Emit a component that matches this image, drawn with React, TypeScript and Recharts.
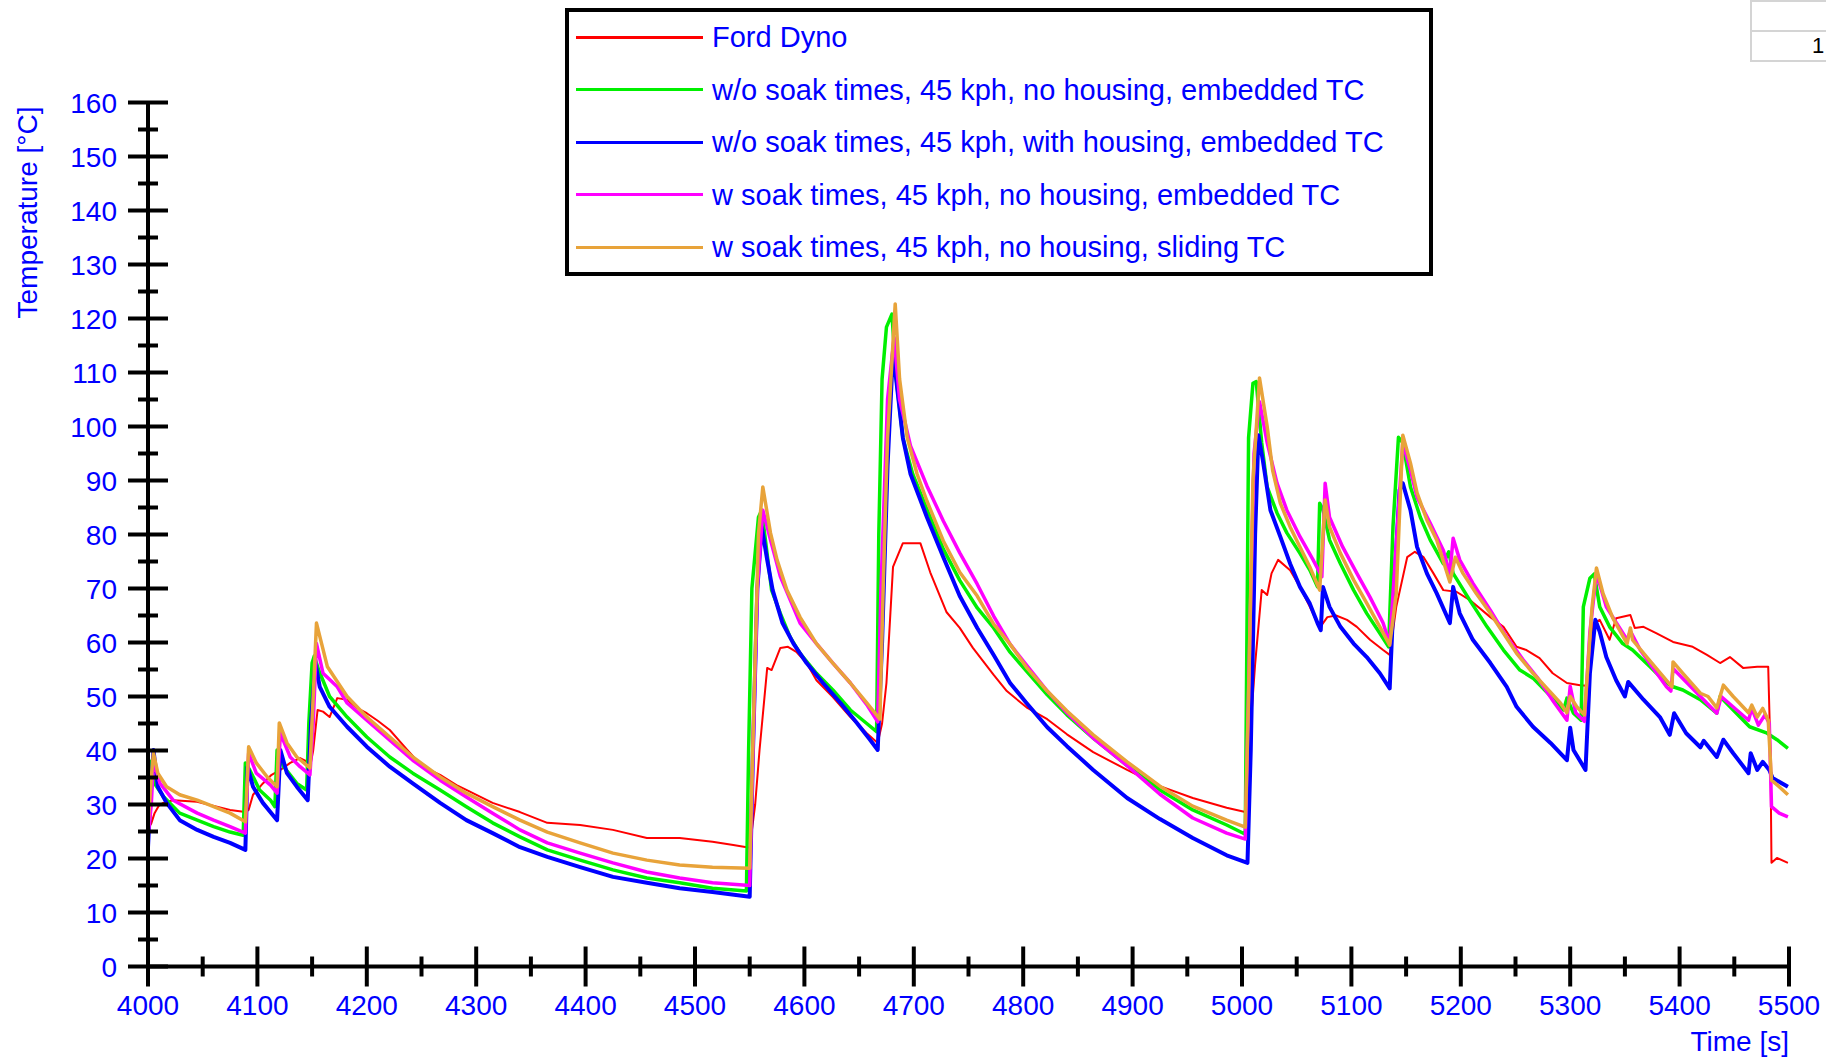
import { LineChart, Line, XAxis, YAxis } from "recharts";

// time [s], temperature [°C]
const fordDyno: [number, number][] = [
  [4000, 25.5], [4003, 26.5], [4006, 28.4], [4010, 29.8], [4014, 30.3], [4023, 30.8], [4045, 30.5], [4063, 29.6],
  [4075, 29], [4089, 28.6], [4092, 29], [4096, 31.8], [4105, 33.9], [4113, 35.5], [4121, 36.4], [4130, 37.7],
  [4139, 38.6], [4145, 38], [4148, 36.8], [4151, 40], [4155, 47.5], [4160, 47.2], [4166, 46.2], [4173, 49.7],
  [4182, 49.4], [4190, 48], [4200, 46.9], [4210, 45.5], [4221, 43.8], [4237, 40.1], [4251, 37], [4267, 35.5],
  [4282, 33.6], [4291, 32.7], [4315, 30.3], [4340, 28.6], [4365, 26.6], [4395, 26.2], [4425, 25.3], [4456, 23.8],
  [4486, 23.8], [4516, 23.1], [4535, 22.5], [4550, 22], [4555, 30], [4559, 40.1], [4566, 55.3], [4570, 54.9],
  [4578, 59], [4585, 59.2], [4593, 58.2], [4602, 56.2], [4611, 53], [4626, 49.9], [4642, 46.2], [4657, 43.2],
  [4667, 41.4], [4671, 45], [4675, 52.5], [4681, 74], [4690, 78.4], [4706, 78.4], [4715, 73], [4730, 65.6],
  [4742, 62.7], [4754, 59], [4773, 54], [4785, 51], [4803, 48], [4822, 45.8], [4840, 43], [4864, 39.7],
  [4895, 36.4], [4925, 33.4], [4955, 31.2], [4986, 29.4], [5003, 28.6], [5007, 42], [5012, 56], [5018, 69.7],
  [5023, 68.8], [5027, 72.8], [5033, 75.3], [5044, 73.4], [5053, 70.3], [5062, 66.6], [5071, 62.7], [5078, 64.7],
  [5086, 65], [5096, 64.2], [5105, 62.9], [5117, 60.5], [5129, 58.6], [5135, 57.7], [5141, 66.6], [5151, 75.8],
  [5158, 76.8], [5166, 75.8], [5175, 72.8], [5184, 69.7], [5196, 69.4], [5208, 67.9], [5227, 64.7], [5239, 62.9],
  [5251, 59.2], [5260, 58.6], [5272, 57.1], [5284, 54.3], [5297, 52.5], [5309, 52.1], [5315, 52], [5321, 63.6],
  [5327, 64.2], [5336, 60.5], [5342, 64.5], [5355, 65.1], [5359, 62.7], [5367, 62.9], [5379, 61.7], [5394, 60.1],
  [5412, 59.2], [5425, 57.7], [5437, 56.2], [5446, 57.3], [5458, 55.3], [5471, 55.5], [5481, 55.5], [5483, 40],
  [5484, 19.2], [5489, 20.1], [5499, 19.2],
];

const noSoakNoHousing: [number, number][] = [
  [4000, 28], [4002, 38], [4006, 33.9], [4014, 31.5], [4029, 28.4], [4045, 27.1], [4060, 25.9], [4075, 24.9],
  [4087, 24.3], [4089, 37.7], [4093, 36.4], [4102, 32.7], [4112, 30.8], [4116, 29.6], [4118, 40.1], [4124, 37],
  [4136, 33.9], [4145, 32.7], [4147, 45], [4150, 56.2], [4152, 57.5], [4156, 54.9], [4166, 50], [4182, 46.2],
  [4200, 42.5], [4221, 38.8], [4242, 35.8], [4267, 32.7], [4291, 29.6], [4315, 26.6], [4340, 24], [4365, 21.6],
  [4395, 19.7], [4425, 17.9], [4456, 16.4], [4486, 15.5], [4516, 14.5], [4547, 14], [4549, 40], [4552, 70],
  [4558, 83.2], [4561, 84.5], [4564, 79.6], [4570, 69.7], [4578, 65.4], [4587, 61], [4596, 58], [4611, 54.3],
  [4626, 51.2], [4642, 47.5], [4657, 45], [4666, 43.5], [4668, 80], [4671, 108.8], [4675, 118.4], [4680, 120.8],
  [4684, 108.8], [4690, 97.9], [4699, 91.2], [4712, 84.7], [4727, 77.3], [4742, 71.5], [4758, 66.4], [4773, 62.7],
  [4788, 58.2], [4803, 54.7], [4822, 50.3], [4840, 46.6], [4864, 42.3], [4895, 37.2], [4925, 32.7], [4955, 29],
  [4986, 26.2], [5003, 24.5], [5006, 97.9], [5010, 108], [5013, 108.3], [5018, 97], [5023, 88.8], [5032, 84],
  [5041, 80.3], [5053, 76.5], [5062, 73.4], [5069, 70.3], [5071, 85.8], [5074, 84.6], [5080, 79], [5090, 74.6],
  [5102, 69.7], [5114, 65.4], [5126, 61.7], [5134, 59.2], [5138, 81.4], [5143, 98], [5147, 97], [5154, 88.8],
  [5163, 83.2], [5172, 79], [5184, 74.6], [5189, 76.8], [5193, 72.8], [5208, 67.9], [5224, 62.9], [5239, 58.6],
  [5254, 54.9], [5266, 53.4], [5280, 50.5], [5294, 47.5], [5297, 49.7], [5303, 46.9], [5310, 45.6], [5312, 66.6],
  [5318, 71.9], [5322, 72.7], [5327, 66.6], [5336, 62.9], [5348, 59.8], [5357, 58.6], [5373, 55.5], [5388, 52.5],
  [5394, 51.8], [5403, 51.2], [5419, 49.4], [5434, 46.9], [5437, 50], [5449, 47.5], [5464, 44.4], [5480, 43.2],
  [5489, 42], [5499, 40.4],
];

const noSoakWithHousing: [number, number][] = [
  [4000, 22.1], [4002, 30], [4005, 40.1], [4009, 33.3], [4017, 30.3], [4029, 27.1], [4045, 25.3], [4060, 24],
  [4075, 22.9], [4089, 21.6], [4091, 37], [4096, 33.3], [4105, 30.3], [4118, 27.1], [4121, 40.1], [4127, 35.8],
  [4136, 33.3], [4146, 30.8], [4149, 45], [4153, 56.2], [4157, 51.8], [4166, 48.1], [4182, 44.4], [4200, 40.7],
  [4221, 37], [4242, 33.9], [4267, 30.3], [4291, 27.1], [4315, 24.7], [4340, 22.1], [4365, 20.3], [4395, 18.4],
  [4425, 16.6], [4456, 15.5], [4486, 14.5], [4516, 13.8], [4550, 12.9], [4553, 40], [4557, 70], [4561, 81.4],
  [4566, 75.3], [4571, 69.7], [4580, 63.6], [4590, 59.8], [4602, 56.2], [4617, 52.5], [4633, 48.8], [4648, 45.1],
  [4660, 42], [4667, 40.1], [4671, 60], [4676, 92.7], [4681, 113.9], [4686, 105], [4690, 97.9], [4697, 91.2],
  [4712, 83.2], [4727, 75.8], [4742, 68.6], [4758, 62.7], [4773, 57.7], [4788, 52.5], [4803, 48.8], [4822, 44.3],
  [4840, 40.8], [4864, 36.4], [4895, 31.2], [4925, 27.3], [4955, 23.8], [4986, 20.6], [5005, 19.2], [5008, 40],
  [5012, 80], [5015, 98.4], [5019, 93.8], [5026, 84.5], [5035, 79.6], [5044, 74.6], [5053, 70.3], [5062, 67.2],
  [5069, 63.6], [5072, 62.3], [5074, 70.3], [5080, 66.6], [5090, 62.9], [5102, 59.8], [5114, 57.3], [5126, 54.3],
  [5135, 51.5], [5139, 70], [5144, 88.2], [5147, 89.5], [5154, 84.5], [5160, 77.7], [5169, 72.8], [5178, 69.1],
  [5190, 63.6], [5193, 70.3], [5199, 65.4], [5211, 60.5], [5227, 56.2], [5242, 51.8], [5251, 48.1], [5266, 44.4],
  [5282, 41.4], [5297, 38.2], [5300, 44.2], [5303, 40.1], [5314, 36.4], [5318, 54.3], [5323, 64.2], [5327, 62],
  [5333, 57.3], [5342, 53], [5350, 50], [5353, 52.7], [5367, 49.4], [5382, 46.2], [5391, 42.9], [5395, 46.9],
  [5406, 43.2], [5419, 40.6], [5422, 41.8], [5434, 38.8], [5440, 42], [5449, 39.5], [5463, 35.8], [5465, 39.5],
  [5471, 36.4], [5476, 37.9], [5482, 36.4], [5485, 34.9], [5499, 33.3],
];

const soakEmbedded: [number, number][] = [
  [4000, 24], [4003, 30], [4005, 38.2], [4011, 33.9], [4023, 30.8], [4045, 28.4], [4060, 27.1], [4075, 25.9],
  [4089, 24.7], [4092, 39.5], [4099, 35.8], [4112, 33.6], [4118, 32.1], [4121, 43.2], [4130, 38.8], [4139, 37],
  [4148, 35.5], [4151, 45], [4154, 59.8], [4160, 54.3], [4173, 51.8], [4182, 48.8], [4200, 45.6], [4221, 41.9],
  [4242, 38.2], [4267, 34.5], [4291, 31.4], [4315, 28.4], [4340, 25.3], [4365, 22.9], [4395, 21], [4425, 19.2],
  [4456, 17.5], [4486, 16.4], [4516, 15.5], [4550, 15], [4553, 40], [4557, 70], [4562, 84.5], [4569, 79],
  [4578, 72.2], [4587, 67.9], [4596, 63.6], [4611, 59.8], [4626, 56.2], [4642, 52.5], [4657, 48.5], [4667, 45.3],
  [4670, 70], [4676, 105], [4682, 116.5], [4687, 105], [4697, 96.4], [4712, 89], [4727, 82.5], [4742, 76.6],
  [4758, 70.8], [4773, 64.9], [4788, 59.7], [4803, 55.8], [4822, 51], [4840, 47], [4864, 42.3], [4895, 37.2],
  [4925, 31.9], [4955, 27.5], [4986, 24.7], [5003, 23.6], [5007, 60], [5011, 95], [5016, 104.6], [5023, 97],
  [5032, 89.5], [5041, 84.5], [5053, 79.6], [5065, 75.3], [5073, 72.2], [5076, 89.5], [5080, 83.2], [5092, 77.7],
  [5105, 72.8], [5117, 68.4], [5129, 63.6], [5135, 59.8], [5140, 75], [5147, 97], [5154, 91.9], [5160, 86.9],
  [5172, 82.1], [5184, 77.1], [5190, 72.8], [5193, 79.3], [5199, 75.3], [5211, 71], [5227, 66], [5242, 61],
  [5257, 56.8], [5270, 53.5], [5285, 49], [5297, 45.6], [5300, 51.9], [5305, 47], [5313, 45.4], [5318, 62],
  [5324, 72.8], [5333, 66.6], [5352, 60.5], [5355, 62.1], [5364, 58.6], [5388, 51.8], [5392, 51], [5394, 55.2],
  [5419, 50], [5434, 46.9], [5438, 50], [5463, 45.6], [5466, 47.8], [5472, 44.7], [5478, 46.6], [5482, 45],
  [5484, 29.6], [5491, 28.4], [5499, 27.7],
];

const soakSliding: [number, number][] = [
  [4000, 25.9], [4003, 35], [4005, 39.5], [4009, 35.8], [4017, 33.3], [4029, 31.8], [4045, 30.8], [4060, 29.6],
  [4075, 28.4], [4089, 26.8], [4092, 40.7], [4099, 37.7], [4109, 35.1], [4118, 33.3], [4120, 45.1], [4127, 41.4],
  [4136, 38.8], [4148, 36.8], [4151, 50], [4154, 63.6], [4164, 55.5], [4182, 50], [4200, 46.2], [4221, 42.5],
  [4242, 38.8], [4267, 35.1], [4291, 32.1], [4315, 29.6], [4340, 27.1], [4365, 24.9], [4395, 22.9], [4425, 21],
  [4456, 19.7], [4486, 18.8], [4516, 18.4], [4550, 18.2], [4554, 50], [4558, 80], [4562, 88.8], [4569, 80.3],
  [4575, 75.3], [4584, 69.7], [4596, 64.7], [4611, 59.8], [4626, 56.2], [4642, 52.5], [4657, 48.8], [4669, 45.8],
  [4672, 70], [4676, 97.9], [4683, 122.7], [4687, 108.8], [4694, 97.9], [4703, 91.2], [4712, 86.2], [4727, 78.8],
  [4742, 73], [4758, 68.6], [4773, 63.4], [4788, 59.7], [4803, 55.4], [4822, 51], [4840, 47.3], [4864, 42.9],
  [4895, 37.9], [4925, 33.4], [4955, 29.7], [4986, 27.1], [5003, 25.8], [5006, 50], [5010, 90], [5016, 109],
  [5023, 100], [5028, 91.9], [5035, 85.8], [5044, 81.4], [5053, 77.7], [5062, 74], [5071, 69.7], [5076, 86.4],
  [5080, 81.4], [5090, 76.5], [5102, 71.6], [5114, 67.3], [5126, 62.9], [5135, 59.5], [5141, 69.1], [5147, 98.4],
  [5154, 93.2], [5160, 87.7], [5169, 82.7], [5178, 79], [5190, 71.2], [5195, 75.8], [5202, 72.8], [5214, 69.1],
  [5227, 65.4], [5239, 61.7], [5251, 58], [5266, 54.3], [5291, 48.8], [5297, 47], [5300, 50], [5306, 48.1],
  [5313, 46.6], [5320, 66.6], [5324, 73.8], [5330, 69.1], [5339, 64.5], [5352, 59.8], [5355, 62.7], [5357, 60.5],
  [5370, 57.3], [5388, 53], [5393, 51.8], [5394, 56.4], [5403, 54.3], [5419, 50.6], [5426, 50], [5434, 47.9],
  [5440, 52.1], [5449, 50], [5463, 47], [5466, 48.4], [5471, 46.2], [5476, 47.8], [5481, 45.6], [5484, 34.5],
  [5491, 33.3], [5499, 31.8],
];

const xTicks = [
  4000, 4050, 4100, 4150, 4200, 4250, 4300, 4350, 4400, 4450, 4500, 4550, 4600, 4650, 4700, 4750,
  4800, 4850, 4900, 4950, 5000, 5050, 5100, 5150, 5200, 5250, 5300, 5350, 5400, 5450, 5500,
];
const yTicks = [
  0, 5, 10, 15, 20, 25, 30, 35, 40, 45, 50, 55, 60, 65, 70, 75, 80, 85, 90, 95, 100, 105, 110, 115,
  120, 125, 130, 135, 140, 145, 150, 155, 160,
];

const series = [
  { name: "Ford Dyno", points: fordDyno, color: "#ff0000", width: 2 },
  { name: "w/o soak times, 45 kph, no housing, embedded TC", points: noSoakNoHousing, color: "#00f000", width: 3.5 },
  { name: "w/o soak times, 45 kph, with housing, embedded TC", points: noSoakWithHousing, color: "#0000ff", width: 4 },
  { name: "w soak times, 45 kph, no housing, embedded TC", points: soakEmbedded, color: "#ff00ff", width: 3.5 },
  { name: "w soak times, 45 kph, no housing, sliding TC", points: soakSliding, color: "#e8a33a", width: 3.5 },
];

const FONT = '"Liberation Sans", Arial, sans-serif';
const TEXT_BLUE = "#0000ff";

function XTick(props: any) {
  const { x, y, payload } = props;
  const major = payload.value % 100 === 0;
  const len = major ? 20 : 10;
  return (
    <g>
      <line x1={x} x2={x} y1={y - len} y2={y + len} stroke="#000" strokeWidth={4} />
      {major && (
        <text x={x} y={y + 48} textAnchor="middle" fill={TEXT_BLUE} fontSize={28} fontFamily={FONT}>
          {payload.value}
        </text>
      )}
    </g>
  );
}

function YTick(props: any) {
  const { x, y, payload } = props;
  const major = payload.value % 10 === 0;
  const len = major ? 20 : 10;
  return (
    <g>
      <line x1={x - len} x2={x + len} y1={y} y2={y} stroke="#000" strokeWidth={4} />
      {major && (
        <text x={x - 31} y={y + 10} textAnchor="end" fill={TEXT_BLUE} fontSize={28} fontFamily={FONT}>
          {payload.value}
        </text>
      )}
    </g>
  );
}

function YTitle(props: any) {
  const { viewBox } = props;
  const cx = viewBox.x - 51;
  const cy = viewBox.y + 110;
  return (
    <text x={cx} y={cy} transform={`rotate(-90 ${cx} ${cy})`} textAnchor="middle"
      fill={TEXT_BLUE} fontSize={28} fontFamily={FONT}>
      Temperature [°C]
    </text>
  );
}

function XTitle(props: any) {
  const { viewBox } = props;
  return (
    <text x={viewBox.x + viewBox.width} y={viewBox.y + 84} textAnchor="end"
      fill={TEXT_BLUE} fontSize={28} fontFamily={FONT}>
      Time [s]
    </text>
  );
}

function LegendBox() {
  return (
    <div
      style={{
        position: "absolute", left: 565, top: 8, width: 860, height: 260,
        border: "4px solid #000", background: "#fff", boxSizing: "content-box",
      }}
    >
      {series.map((s, i) => (
        <div key={s.name} style={{ position: "absolute", left: 7, top: 11 + i * 52.5, height: 28, display: "flex", alignItems: "center" }}>
          <div style={{ width: 127, height: 3, background: s.color }} />
          <span style={{ marginLeft: 9, color: TEXT_BLUE, fontSize: 29, fontFamily: FONT, whiteSpace: "nowrap", lineHeight: "28px" }}>
            {s.name}
          </span>
        </div>
      ))}
    </div>
  );
}

export default function App() {
  return (
    <div style={{ position: "absolute", left: 0, top: 0, width: 1826, height: 1060, background: "#fff", overflow: "hidden" }}>
      <LineChart width={1826} height={1060} margin={{ top: 102.5, right: 37, bottom: 53.5, left: 88 }}>
        <XAxis
          type="number"
          dataKey="t"
          domain={[4000, 5500]}
          ticks={xTicks}
          interval={0}
          height={40}
          tickSize={0}
          tickMargin={0}
          tickLine={false}
          axisLine={{ stroke: "#000", strokeWidth: 4 }}
          tick={<XTick />}
          label={<XTitle />}
        />
        <YAxis
          type="number"
          domain={[0, 160]}
          ticks={yTicks}
          interval={0}
          width={60}
          tickSize={0}
          tickMargin={0}
          tickLine={false}
          axisLine={{ stroke: "#000", strokeWidth: 4 }}
          tick={<YTick />}
          label={<YTitle />}
        />
        {series.map((s) => (
          <Line
            key={s.name}
            data={s.points.map(([t, v]) => ({ t, v }))}
            dataKey="v"
            type="linear"
            stroke={s.color}
            strokeWidth={s.width}
            strokeLinejoin="round"
            dot={false}
            activeDot={false}
            isAnimationActive={false}
          />
        ))}
      </LineChart>
      <LegendBox />
      {/* stray table fragment in the top right corner */}
      <div style={{ position: "absolute", left: 1750, top: 0, width: 80, height: 60, borderLeft: "2px solid #d4d4d4", borderBottom: "2px solid #d4d4d4" }}>
        <div style={{ position: "absolute", left: 0, right: 0, top: 0, borderTop: "2px solid #d4d4d4" }} />
        <div style={{ position: "absolute", left: 0, right: 0, top: 30, borderTop: "2px solid #d4d4d4" }} />
        <div style={{ position: "absolute", left: 60, top: 33, fontSize: 22, fontFamily: FONT, color: "#000" }}>1</div>
      </div>
    </div>
  );
}
